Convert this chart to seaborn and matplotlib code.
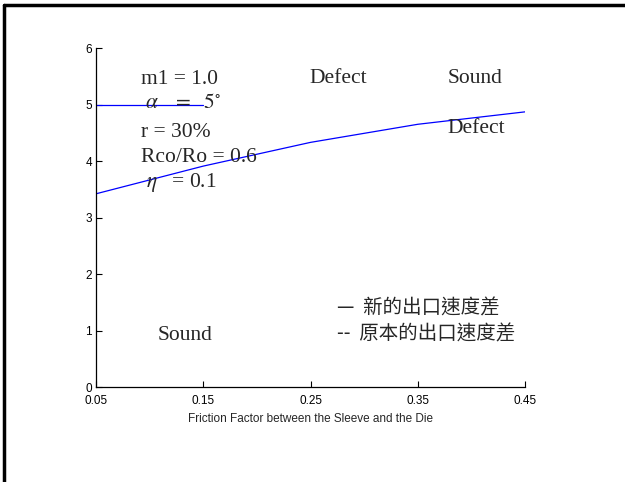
import numpy as np
import pandas as pd
import seaborn as sns
import matplotlib.pyplot as plt
from matplotlib.lines import Line2D

# data
friction = [0.05, 0.15, 0.25, 0.35, 0.45]
exit_diff = [3.42, 3.91, 4.33, 4.65, 4.87]
ref_x = [0.05, 0.15]
ref_y = [5.0, 5.0]
xticks = [0.05, 0.15, 0.25, 0.35, 0.45]
yticks = [0, 1, 2, 3, 4, 5, 6]

sns.set_style('ticks')
plt.rcParams['font.family'] = ['Liberation Sans', 'DejaVu Sans']
plt.rcParams['mathtext.fontset'] = 'stix'

fig = plt.figure(figsize=(6.25, 4.82), dpi=100)
ax = fig.add_axes([0.1536, 0.197, 0.6864, 0.7034])

df = pd.DataFrame({'x': friction, 'y': exit_diff})
sns.lineplot(data=df, x='x', y='y', ax=ax, color='blue', linewidth=0.9)
sns.lineplot(x=ref_x, y=ref_y, ax=ax, color='blue', linewidth=0.9)

ax.set_xlim(0.05, 0.45)
ax.set_ylim(0, 6)
ax.set_xticks(xticks)
ax.set_xticklabels(['0.05', '0.15', '0.25', '0.35', '0.45'])
ax.set_yticks(yticks)
ax.tick_params(direction='in', length=4, width=0.8, labelsize=8.5,
               colors='black')
ax.tick_params(axis='x', pad=6)
ax.tick_params(axis='y', pad=3)
ax.set_xlabel('Friction Factor between the Sleeve and the Die', fontsize=8.5,
              labelpad=4)
ax.set_ylabel('')
sns.despine(ax=ax)
for s in ['left', 'bottom']:
    ax.spines[s].set_linewidth(0.9)
    ax.spines[s].set_color('black')

serif = {'family': 'Liberation Serif', 'fontsize': 15.5, 'va': 'center'}
ax.text(0.092, 5.45, 'm1 = 1.0', **serif)
ax.text(0.0957, 5.01, r'$\mathit{\alpha}\ \ \ =\ \ 5^{\circ}$', **serif)
ax.text(0.092, 4.51, 'r = 30%', **serif)
ax.text(0.092, 4.07, 'Rco/Ro = 0.6', **serif)
ax.text(0.0966, 3.62, r'$\mathit{\eta}\ \ \ $= 0.1', **serif)
ax.text(0.2486, 5.46, 'Defect', **serif)
ax.text(0.378, 5.46, 'Sound', **serif)
ax.text(0.378, 4.57, 'Defect', **serif)
ax.text(0.1075, 0.92, 'Sound', **serif)

cjk = ['Noto Sans CJK TC', 'DejaVu Sans']
ax.text(0.2747, 1.40, '—  新的出口速度差', family=cjk, fontsize=14, va='center')
ax.text(0.2747, 0.94, '--  原本的出口速度差', family=cjk, fontsize=14, va='center')

# figure frame (only top and left visible in the reference)
fig.add_artist(Line2D([0.0064, 1.0], [0.9895, 0.9895], color='black',
                      linewidth=2.5, transform=fig.transFigure))
fig.add_artist(Line2D([0.0064, 0.0064], [0.0, 0.9895], color='black',
                      linewidth=2.5, transform=fig.transFigure))

fig.savefig('out.png', dpi=100)
